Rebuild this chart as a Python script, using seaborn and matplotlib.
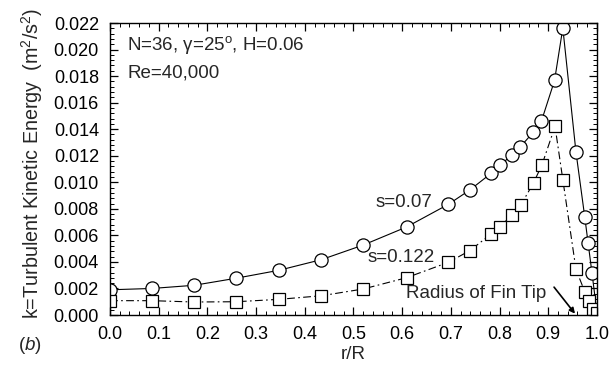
import matplotlib
matplotlib.use("Agg")
import matplotlib.pyplot as plt
from matplotlib.ticker import MultipleLocator, FormatStrFormatter
import seaborn as sns
import pandas as pd

# Radial distributions of turbulent kinetic energy for two spacings
r_s007 = [0.0, 0.086, 0.173, 0.259, 0.347, 0.434, 0.520, 0.609, 0.695, 0.739,
          0.783, 0.801, 0.825, 0.843, 0.869, 0.886, 0.913, 0.930, 0.957, 0.975,
          0.982, 0.990, 1.0]
k_s007 = [0.0019, 0.0020, 0.00224, 0.00277, 0.00337, 0.00417, 0.00527, 0.00663,
          0.00834, 0.00942, 0.01068, 0.01127, 0.01205, 0.01268, 0.01376, 0.01460,
          0.01767, 0.02162, 0.01228, 0.0074, 0.0054, 0.00314, 0.0002]

r_s0122 = [0.0, 0.086, 0.173, 0.259, 0.347, 0.434, 0.520, 0.609, 0.695, 0.739,
           0.782, 0.801, 0.825, 0.844, 0.870, 0.887, 0.914, 0.930, 0.957, 0.975,
           0.984, 0.991, 1.0]
k_s0122 = [0.00108, 0.00108, 0.00098, 0.0010, 0.00118, 0.00145, 0.00196, 0.00281,
           0.00397, 0.00485, 0.00608, 0.00663, 0.00754, 0.0083, 0.00997, 0.0113,
           0.01421, 0.0102, 0.00344, 0.00176, 0.00108, 0.00043, 0.00017]

x_ticks = [0.0, 0.1, 0.2, 0.3, 0.4, 0.5, 0.6, 0.7, 0.8, 0.9, 1.0]
y_ticks = [0.000, 0.002, 0.004, 0.006, 0.008, 0.010, 0.012, 0.014, 0.016,
           0.018, 0.020, 0.022]

FS = 13.5

sns.set_style("ticks")
plt.rcParams["font.family"] = ["Liberation Sans", "DejaVu Sans"]
plt.rcParams["mathtext.fontset"] = "custom"
plt.rcParams["mathtext.rm"] = "Liberation Sans"
plt.rcParams["mathtext.it"] = "Liberation Sans:italic"

fig = plt.figure(figsize=(6.16, 3.68), dpi=100)
ax = fig.add_axes([0.1786, 0.144, 0.7904, 0.7935])

df1 = pd.DataFrame({"r": r_s007, "k": k_s007})
df2 = pd.DataFrame({"r": r_s0122, "k": k_s0122})

sns.lineplot(data=df1, x="r", y="k", ax=ax, color="black", lw=0.8,
             linestyle="-", marker="o", markersize=9.5,
             markerfacecolor="white", markeredgecolor="black",
             markeredgewidth=0.9, sort=False)
sns.lineplot(data=df2, x="r", y="k", ax=ax, color="black", lw=0.8,
             linestyle=(0, (7, 3, 1.5, 3)), marker="s", markersize=8,
             markerfacecolor="white", markeredgecolor="black",
             markeredgewidth=0.9, sort=False)

ax.set_xlim(0.0, 1.0)
ax.set_ylim(0.0, 0.022)
ax.set_xticks(x_ticks)
ax.set_yticks(y_ticks)
ax.xaxis.set_major_formatter(FormatStrFormatter("%.1f"))
ax.yaxis.set_major_formatter(FormatStrFormatter("%.3f"))
ax.xaxis.set_minor_locator(MultipleLocator(0.02))
ax.yaxis.set_minor_locator(MultipleLocator(0.0004))

for side in ["top", "right", "left", "bottom"]:
    ax.spines[side].set_visible(True)
    ax.spines[side].set_linewidth(1.0)
    ax.spines[side].set_color("black")

ax.tick_params(which="both", direction="in", top=True, right=True,
               colors="black", labelsize=13)
ax.tick_params(which="major", length=6, width=0.9)
ax.tick_params(which="minor", length=3, width=0.7)
ax.tick_params(axis="x", pad=8)
ax.tick_params(axis="y", pad=8)

ax.set_xlabel("r/R", fontsize=FS, labelpad=2)
ax.set_ylabel("k=Turbulent Kinetic Energy  (m$^2$/s$^2$)", fontsize=14.2,
              labelpad=6, y=0.52)

ax.text(0.035, 0.925, "N=36, γ=25$^{\\mathrm{o}}$, H=0.06",
        transform=ax.transAxes, fontsize=FS, va="center", ha="left")
ax.text(0.035, 0.83, "Re=40,000", transform=ax.transAxes, fontsize=FS,
        va="center", ha="left")
ax.text(0.545, 0.0085, "s=0.07", fontsize=FS, va="center", ha="left")
ax.text(0.528, 0.0043, "s=0.122", fontsize=FS, va="center", ha="left")
ax.text(0.608, 0.0016, "Radius of Fin Tip", fontsize=FS, va="center",
        ha="left")
ax.annotate("", xy=(0.955, 0.0001), xytext=(0.912, 0.0021),
            arrowprops=dict(arrowstyle="-|>", color="black", lw=1.2,
                            mutation_scale=8, shrinkA=0, shrinkB=0))

fig.text(18 / 616, 1 - 345 / 368, "($\\it{b}$)", fontsize=FS,
         va="center", ha="left")

fig.savefig("out.png", dpi=100, facecolor="white")
